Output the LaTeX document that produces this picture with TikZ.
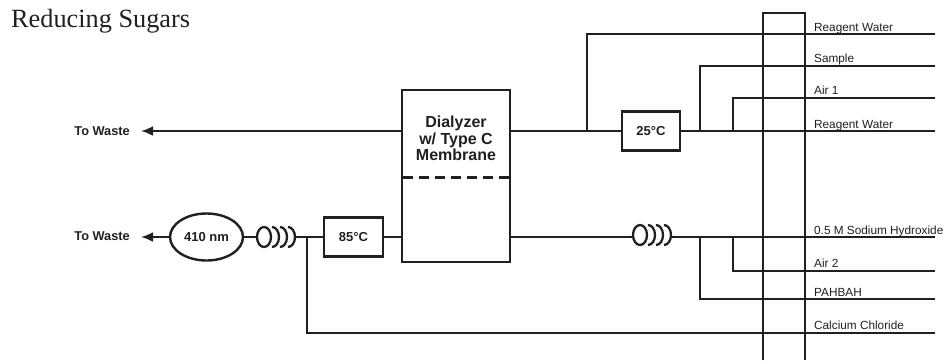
\documentclass[tikz,border=0pt]{standalone}
\usepackage{fontspec}
\setmainfont{Liberation Serif}
\setsansfont{Liberation Sans}
\usepackage{xcolor}
\usetikzlibrary{arrows.meta, shapes.geometric}
\definecolor{ink}{HTML}{231F20}

\begin{document}
\begin{tikzpicture}[
    x=1pt, y=-1pt,
    every path/.style={draw=ink, line width=2.3pt},
    flowbox/.style={draw=ink, rectangle, line width=2.4pt, inner sep=0pt, text=ink, font=\sffamily\bfseries\fontsize{13}{15}\selectfont},
    detector/.style={draw=ink, ellipse, line width=2.4pt, inner sep=0pt, minimum width=73pt, minimum height=47pt, text=ink, font=\sffamily\bfseries\fontsize{13}{15}\selectfont},
    wastelabel/.style={text=ink, inner sep=0pt, font=\sffamily\bfseries\fontsize{12.8}{15}\selectfont},
    linelabel/.style={text=ink, inner sep=0pt, anchor=base west, font=\sffamily\fontsize{11.8}{14}\selectfont},
    toarrow/.style={-{Latex[length=12pt,width=10pt]}},
    coil/.pic={
      \coordinate (-in) at (-7,0);
      \coordinate (-out) at (31,0);
      \draw (0,0) ellipse [x radius=7, y radius=10];
      \foreach \dx in {8,16,24} {
        \draw (\dx,-10) arc [start angle=-90, end angle=90, x radius=7, y radius=10];
      }
    },
  ]
  \path[use as bounding box, draw=none] (0,0) rectangle (944,360);

  \node[text=ink, inner sep=0pt, anchor=base west, font=\fontsize{26.3}{30}\selectfont] (title) at (10,27.5) {Reducing Sugars};

  % main boxes
  \node[flowbox, minimum width=108.5pt, minimum height=172pt] (dialyzer) at (456,176) {};
  \node[flowbox, draw=none, align=center, font=\sffamily\bfseries\fontsize{16}{16.5}\selectfont] (dialyzertext) at (456,138.5) {Dialyzer\\w/ Type C\\Membrane};
  \node[flowbox, minimum width=58pt, minimum height=39pt] (hotA) at (651,131) {25°C};
  \node[flowbox, minimum width=59pt, minimum height=39pt] (hotB) at (353.5,237) {85°C};
  \node[detector] (det) at (206.5,237) {410 nm};
  \node[wastelabel, anchor=east] (wasteA) at (131,131) {To Waste};
  \node[wastelabel, anchor=east] (wasteB) at (131,236) {To Waste};

  \coordinate (tipA) at (141,131);
  \coordinate (tipB) at (141,237);
  \coordinate (memL) at (dialyzer.west |- 0,177);
  \coordinate (memR) at (dialyzer.east |- 0,177);

  \pic (coilB) at (264,237) {coil};
  \pic (coilA) at (640,235) {coil};

  % rails
  \coordinate (railLb) at (763,360);
  \coordinate (railRb) at (805,360);
  \coordinate (railLt) at (763,13);
  \coordinate (railRt) at (805,13);
  \draw (railLb) -- (railLt) -- (railRt) -- (railRb);

  % line ends
  \coordinate (endA) at (935,34);
  \coordinate (endB) at (935,66);
  \coordinate (endC) at (935,98);
  \coordinate (endD) at (935,131);
  \coordinate (endE) at (935,237);
  \coordinate (endF) at (935,271);
  \coordinate (endG) at (935,299);
  \coordinate (endH) at (935,333);

  \draw[toarrow] (dialyzer.west |- tipA) -- (tipA);
  \draw[toarrow] (det.west) -- (tipB);
  \draw (det.east) -- (coilB-in);
  \draw (coilB-out) -- (hotB.west);
  \draw (hotB.east) -- (dialyzer.west |- hotB);
  \draw[dash pattern=on 10pt off 6pt, dash phase=-2pt, line width=3pt] (memL) -- (memR);

  \draw (dialyzer.east |- hotA) -- (hotA.west);
  \draw (hotA.east) -- (endD);
  \draw (587,131) -- (587,34) -- (endA);
  \draw (700,131) -- (700,66) -- (endB);
  \draw (733,131) -- (733,98) -- (endC);

  \draw (dialyzer.east |- 0,237) -- (coilA-in |- 0,237);
  \draw (coilA-out |- 0,237) -- (endE);
  \draw (733,237) -- (733,271) -- (endF);
  \draw (700,237) -- (700,299) -- (endG);
  \draw (307,237) -- (307,333) -- (endH);

  % labels
  \node[linelabel] (lblA) at (813,31) {Reagent Water};
  \node[linelabel] (lblB) at (813,62) {Sample};
  \node[linelabel] (lblC) at (813,94) {Air 1};
  \node[linelabel] (lblD) at (813,128) {Reagent Water};
  \node[linelabel] (lblE) at (813,234) {0.5 M Sodium Hydroxide};
  \node[linelabel] (lblF) at (813,267) {Air 2};
  \node[linelabel] (lblG) at (813,296) {PAHBAH};
  \node[linelabel] (lblH) at (813,329) {Calcium Chloride};
\end{tikzpicture}
\end{document}
